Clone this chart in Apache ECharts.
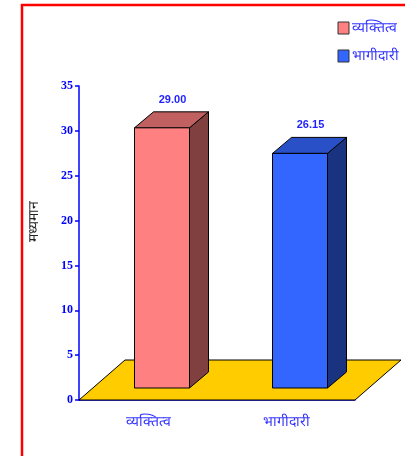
<!DOCTYPE html>
<html>
<head>
<meta charset="utf-8">
<script src="https://cdn.jsdelivr.net/npm/echarts@6/dist/echarts.min.js"></script>
<style>
  html, body { margin: 0; padding: 0; background: #fff; }
  #chart { width: 405px; height: 456px; }
</style>
</head>
<body>
<div id="chart"></div>
<script>
var categories = ['व्यक्तित्व', 'भागीदारी'];
var values = [29.00, 26.15];
var yTicks = [0, 5, 10, 15, 20, 25, 30, 35];
var axisName = 'मध्यमान';

var frontColors = ['#ff8080', '#3366ff'];
var topColors = ['#c06060', '#2a50c8'];
var sideColors = ['#804040', '#1a3380'];

// floor depth and bar depth (pixels)
var FLOOR_DX = 46, FLOOR_DY = 40;
var BAR_OX = 14, BAR_OY = 12;
var BAR_DX = 19, BAR_DY = 16;
var BAR_W = 55;

var myChart = echarts.init(document.getElementById('chart'));

function renderFloor(params, api) {
    var cs = params.coordSys;
    var x0 = cs.x, x1 = cs.x + cs.width;
    var y0 = api.coord([0, 0])[1];
    return {
        type: 'polygon',
        shape: {
            points: [[x0, y0], [x1, y0], [x1 + FLOOR_DX, y0 - FLOOR_DY], [x0 + FLOOR_DX, y0 - FLOOR_DY]]
        },
        style: { fill: '#ffcc00', stroke: '#000', lineWidth: 1 },
        silent: true
    };
}

function makeBar(idx) {
    return function (params, api) {
        var top = api.coord([api.value(0), api.value(1)]);
        var base = api.coord([api.value(0), 0]);
        var cx = top[0] + BAR_OX;
        var l = cx - BAR_W / 2, r = cx + BAR_W / 2;
        var t = top[1] - BAR_OY, b = base[1] - BAR_OY;
        var line = { stroke: '#000', lineWidth: 1 };
        return {
            type: 'group',
            children: [
                {
                    type: 'polygon',
                    shape: { points: [[r, t], [r + BAR_DX, t - BAR_DY], [r + BAR_DX, b - BAR_DY], [r, b]] },
                    style: Object.assign({ fill: sideColors[idx] }, line)
                },
                {
                    type: 'polygon',
                    shape: { points: [[l, t], [l + BAR_DX, t - BAR_DY], [r + BAR_DX, t - BAR_DY], [r, t]] },
                    style: Object.assign({ fill: topColors[idx] }, line)
                },
                {
                    type: 'rect',
                    shape: { x: l, y: t, width: BAR_W, height: b - t },
                    style: Object.assign({ fill: frontColors[idx] }, line)
                },
                {
                    type: 'text',
                    x: cx + BAR_DX / 2 + 1,
                    y: t - BAR_DY - 12,
                    style: {
                        text: api.value(1).toFixed(2),
                        fill: '#1f1fff',
                        font: 'bold 11px "Liberation Sans", Arial, sans-serif',
                        align: 'center',
                        verticalAlign: 'middle'
                    }
                }
            ]
        };
    };
}

var series = [{
    type: 'custom',
    name: 'floor',
    renderItem: renderFloor,
    data: [[0, 0]],
    silent: true,
    z: 1
}];
categories.forEach(function (c, i) {
    series.push({
        type: 'custom',
        name: c,
        renderItem: makeBar(i),
        itemStyle: { color: frontColors[i] },
        data: [[i, values[i]]],
        z: 2
    });
});

var option = {
    backgroundColor: '#fff',
    animation: false,
    graphic: [{
        type: 'polyline',
        shape: { points: [[22, 456], [22, 5], [405, 5]] },
        style: { stroke: '#ff0000', lineWidth: 2.5, fill: null },
        silent: true
    }],
    legend: {
        data: categories,
        orient: 'vertical',
        right: 1,
        top: 16,
        itemGap: 14,
        itemWidth: 11,
        itemHeight: 12,
        icon: 'rect',
        itemStyle: { borderColor: '#333', borderWidth: 1 },
        textStyle: { color: '#3333ff', fontSize: 14, padding: [0, 0, 0, -2] }
    },
    grid: { left: 79, right: 50, top: 86, bottom: 56 },
    xAxis: {
        type: 'category',
        data: categories,
        axisLine: { lineStyle: { color: '#0000ff', width: 1.5 } },
        axisTick: { length: 5, lineStyle: { color: '#0000ff', width: 1.5 } },
        axisLabel: { color: '#3333ff', fontSize: 14, margin: 15 }
    },
    yAxis: {
        type: 'value',
        min: yTicks[0],
        max: yTicks[yTicks.length - 1],
        interval: 5,
        name: axisName,
        nameLocation: 'middle',
        nameRotate: 90,
        nameGap: 38,
        nameTextStyle: { color: '#222', fontSize: 14, padding: [0, 0, 0, 44] },
        splitLine: { show: false },
        axisLine: { show: true, lineStyle: { color: '#0000ff', width: 1.5 } },
        axisTick: { show: true, length: 4, lineStyle: { color: '#0000ff', width: 1.5 } },
        axisLabel: {
            color: '#0000ff',
            fontSize: 12,
            fontWeight: 'bold',
            fontFamily: '"Liberation Serif", "Times New Roman", serif',
            margin: 6
        }
    },
    series: series
};

myChart.setOption(option);
</script>
</body>
</html>
